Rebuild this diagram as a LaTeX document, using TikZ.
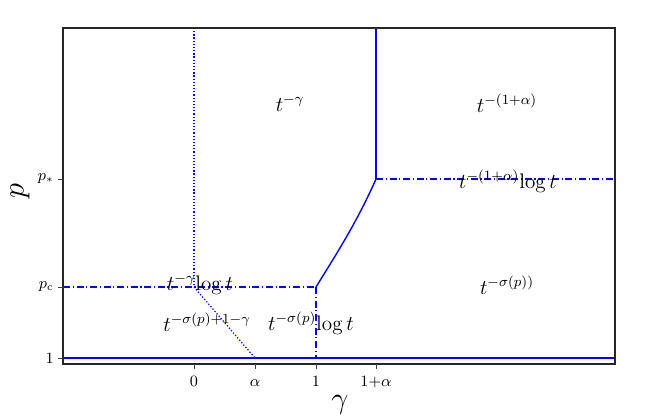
\documentclass[tikz,border=0pt]{standalone}
\usepackage{amsmath}
\begin{document}
\begin{tikzpicture}[x=0.02cm,y=-0.02cm,
  reg/.style={draw=none,inner sep=0pt,font=\fontsize{12}{14}\selectfont},
  tick/.style={draw=black!75,line width=0.5pt},
  ticklab/.style={inner sep=0pt,font=\fontsize{9}{10}\selectfont},
  bl/.style={blue,line width=0.8pt},
  dd/.style={bl,dash pattern=on 4pt off 1.5pt on 0.7pt off 1.5pt},
  dt/.style={bl,line width=0.7pt,dash pattern=on 0.7pt off 1.1pt}]
\useasboundingbox (0,0) rectangle (645,419);
% coordinates
\coordinate (L1) at (63,358);
\coordinate (R1) at (615,358);
\coordinate (Lc) at (63,287);
\coordinate (Cc) at (316,287);
\coordinate (C1) at (316,358);
\coordinate (Z0) at (194,287);
\coordinate (Ztop) at (194,28);
\coordinate (A1) at (255,358);
\coordinate (S) at (376,179);
\coordinate (Stop) at (376,28);
\coordinate (Rs) at (615,179);
% blue lines
\draw[bl] (L1) -- (R1);
\draw[dt] (Ztop) -- (Z0);
\draw[dt] (Z0) -- (A1);
\draw[dd] (Lc) -- (Cc);
\draw[dd] (Cc) -- (C1);
\draw[bl] (Cc) .. controls (337,253) and (357,222) .. (S);
\draw[bl] (S) -- (Stop);
\draw[dd] (S) -- (Rs);
% frame
\draw[black!85,line width=0.6pt] (63,28) rectangle (615,364);
% ticks x
\foreach \x/\l in {194/0,255/\alpha,316/1,376/1{+}\alpha}{
  \draw[tick] (\x,364) -- (\x,369);
  \node[ticklab,anchor=base] at (\x,386) {$\l$};
}
% ticks y
\foreach \y/\l in {358/1,287/p_{\mathrm{c}},179/p_*}{
  \draw[tick] (63,\y) -- (58,\y);
  \node[ticklab,anchor=east] at (54,\y) {$\l$};
}
% axis labels
\node[font=\fontsize{17}{19}\selectfont] (xl) at (340,405) {$\gamma$};
\node[font=\fontsize{17}{19}\selectfont,rotate=90] (yl) at (20,191) {$p$};
% region labels
\node[reg] (r1) at (290,103) {$t^{-\gamma}$};
\node[reg] (r2) at (507,103) {$t^{-(1+\alpha)}$};
\node[reg] (r3) at (508,181) {$t^{-(1+\alpha)}\!\log t$};
\node[reg] (r4) at (507,285) {$t^{-\sigma(p))}$};
\node[reg] (r5) at (200,284) {$t^{-\gamma}\!\log t$};
\node[reg] (r6) at (207,322) {$t^{-\sigma(p)+1-\gamma}$};
\node[reg] (r7) at (311,323) {$t^{-\sigma(p)}\!\log t$};
\end{tikzpicture}
\end{document}
